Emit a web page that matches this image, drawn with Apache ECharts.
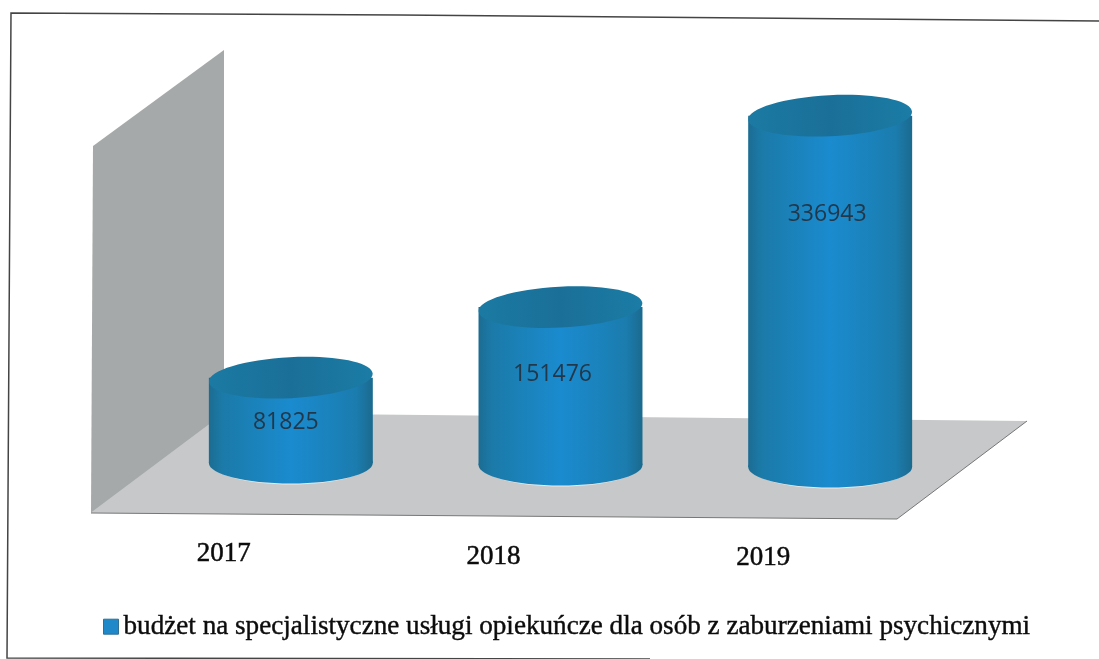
<!DOCTYPE html>
<html>
<head>
<meta charset="utf-8">
<style>html,body{margin:0;padding:0;background:#fff}#c{width:1099px;height:659px}</style>
<script src="https://cdn.jsdelivr.net/npm/echarts@6/dist/echarts.min.js"></script>
</head>
<body>
<div id="c"></div>
<script>
const categories = ['2017', '2018', '2019'];
const values = [81825, 151476, 336943];
const seriesName = 'budżet na specjalistyczne usługi opiekuńcze dla osób z zaburzeniami psychicznymi';

// manual placement of the labels, as in the reference (dx, dy from the bar middle)
const labelShift = [[-5, 2], [-8, -12], [-3, -77]];
const catShift = [0, 3, 4];
const tilt = 0.0074;

const chart = echarts.init(document.getElementById('c'));

function bodyGrad() {
  return new echarts.graphic.LinearGradient(0, 0, 1, 0, [
    {offset: 0, color: '#1c6c92'},
    {offset: 0.08, color: '#1b7aa8'},
    {offset: 0.5, color: '#1a8bcf'},
    {offset: 0.9, color: '#1b7cae'},
    {offset: 1, color: '#1b6a8e'}
  ]);
}
function topGrad() {
  return new echarts.graphic.LinearGradient(0, 0, 1, 0, [
    {offset: 0, color: '#1b7aa3'},
    {offset: 0.5, color: '#1a6f98'},
    {offset: 1, color: '#1b7ca5'}
  ]);
}

function renderCylinder(params, api) {
  const i = api.value(0);
  const base = api.coord([i, 0]);
  const top = api.coord([i, api.value(1)]);
  const band = api.size([1, 0])[0];
  const rx = band * 0.304;
  const ry = rx * 0.25;
  const cx = base[0];
  const d = (cx - 559) * tilt;
  const y0 = top[1] + d, y1 = base[1] + d;
  const s = labelShift[i];
  return {
    type: 'group',
    children: [
      {type: 'ellipse', shape: {cx: cx, cy: y1 + 1, rx: rx - 4, ry: ry}, style: {fill: '#ecece9'}},
      {type: 'ellipse', shape: {cx: cx, cy: y1, rx: rx, ry: ry}, style: {fill: bodyGrad()}},
      {type: 'rect', shape: {x: cx - rx, y: y0, width: rx * 2, height: y1 - y0}, style: {fill: bodyGrad()}},
      {type: 'ellipse', shape: {cx: cx, cy: y0, rx: rx, ry: ry}, style: {fill: topGrad()},
        rotation: 0.05, originX: cx, originY: y0},
      {type: 'text', x: cx + s[0], y: (y0 + y1) / 2 + s[1], z2: 10,
        style: {text: String(api.value(1)), fill: '#22384a', font: '23px "Open Sans", sans-serif', align: 'center', verticalAlign: 'middle'}}
    ]
  };
}

const rich = {};
catShift.forEach((t, i) => {
  rich['c' + i] = {padding: [t, 134, 0, 0], fontSize: 27, fontFamily: '"Liberation Serif", serif', color: '#0c0c0c', textBorderColor: '#0c0c0c', textBorderWidth: 0.5};
});

chart.setOption({
  animation: false,
  backgroundColor: '#fff',
  grid: {left: 156, right: 134, top: 48, bottom: 194},
  xAxis: {
    type: 'category', data: categories,
    axisLine: {show: false}, axisTick: {show: false}, splitLine: {show: false},
    axisLabel: {margin: 75, formatter: (v, i) => '{c' + i + '|' + v + '}', rich: rich}
  },
  yAxis: {type: 'value', min: 0, max: 400000, show: false},
  legend: {
    left: 98, top: 608, icon: 'rect', itemWidth: 15, itemHeight: 15, itemGap: 6,
    data: [seriesName],
    itemStyle: {color: '#1e88c8', borderColor: '#2f6f95', borderWidth: 1},
    textStyle: {fontFamily: '"Liberation Serif", serif', fontSize: 27.15, color: '#0c0c0c', textBorderColor: '#0c0c0c', textBorderWidth: 0.4}
  },
  graphic: [
    {type: 'polyline', silent: true, z: -10, shape: {points: [[1099, 21], [400, 15], [11, 13], [7, 658], [650, 659]]}, style: {fill: null, stroke: '#444', lineWidth: 1.5}},
    {type: 'polygon', silent: true, z: -9, shape: {points: [[93, 146], [224, 50], [224, 425], [91, 513]]}, style: {fill: '#a6a9a9'}},
    {type: 'polygon', silent: true, z: -8, shape: {points: [[93, 511], [208, 425], [224, 413], [1027, 421], [897, 519], [91, 513]]}, style: {fill: '#c6c8c9'}},
    {type: 'polyline', silent: true, z: -7, shape: {points: [[91, 513], [897, 519], [1027, 421]]}, style: {stroke: '#777', lineWidth: 1, fill: null}}
  ],
  series: [{
    type: 'custom', name: seriesName, coordinateSystem: 'cartesian2d',
    renderItem: renderCylinder, encode: {x: 0, y: 1},
    itemStyle: {color: '#1e88c8'},
    data: values.map((v, i) => [i, v])
  }]
});
</script>
</body>
</html>
